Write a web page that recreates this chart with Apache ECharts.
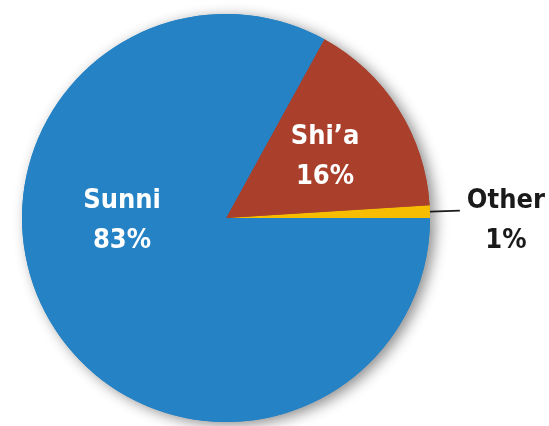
<!DOCTYPE html>
<html>
<head>
<meta charset="utf-8">
<script src="https://cdn.jsdelivr.net/npm/echarts@6/dist/echarts.min.js"></script>
<style>
  html, body { margin: 0; padding: 0; background: #fff; }
  #chart { width: 549px; height: 426px; }
</style>
</head>
<body>
<div id="chart"></div>
<script>
// slices listed counter-clockwise from 3 o'clock
const names = ['Other', 'Shi’a', 'Sunni'];
const shares = [1, 16, 83];
const colors = ['#f7bd00', '#aa402b', '#2482c5'];

const font = "'Liberation Sans Narrow', 'DejaVu Sans Condensed', sans-serif";

// where the inside labels sit
const insideSpots = {
  'Shi’a': [325, 157],
  'Sunni': [122, 221]
};

const chart = echarts.init(document.getElementById('chart'));

const data = names.map((n, i) => ({
  name: n,
  value: shares[i],
  itemStyle: { color: colors[i] }
}));

const pieBase = {
  type: 'pie',
  center: [226, 218],
  radius: 204,
  startAngle: 0,
  clockwise: false,
  avoidLabelOverlap: false,
  animation: false
};

chart.setOption({
  backgroundColor: '#ffffff',
  series: [
    // shadow layer underneath
    Object.assign({}, pieBase, {
      silent: true,
      z: 1,
      data: data,
      label: { show: false },
      labelLine: { show: false },
      itemStyle: {
        borderWidth: 0,
        shadowBlur: 14,
        shadowColor: 'rgba(0,0,0,0.45)',
        shadowOffsetX: 5,
        shadowOffsetY: 3
      }
    }),
    Object.assign({}, pieBase, {
      z: 2,
      data: data,
      itemStyle: { borderWidth: 0 },
      label: {
        show: true,
        position: 'outside',
        fontFamily: font,
        fontWeight: 'bold',
        fontSize: 27,
        lineHeight: 40,
        color: '#1a1a1a',
        distanceToLabelLine: 6,
        padding: [21, 0, 0, 0],
        formatter: p => '{a|' + p.name + '}\n{a|' + p.value + '%}',
        rich: {
          a: {
            width: 80,
            align: 'center',
            fontFamily: font,
            fontWeight: 'bold',
            fontSize: 27,
            lineHeight: 40
          }
        }
      },
      labelLine: {
        show: true,
        length: 30,
        length2: 0,
        lineStyle: { color: '#1a1a1a', width: 1.6 }
      },
      labelLayout: p => {
        const spot = insideSpots[names[p.dataIndex]];
        if (!spot) return {};
        return { x: spot[0], y: spot[1], align: 'center', verticalAlign: 'middle' };
      }
    })
  ]
});

// inside labels: white, no leader lines
chart.setOption({
  series: [{}, {
    data: data.map(d => insideSpots[d.name]
      ? Object.assign({}, d, {
          label: { color: '#ffffff', padding: 0, rich: { a: { color: '#ffffff' } } },
          labelLine: { show: false }
        })
      : d)
  }]
});
</script>
</body>
</html>
